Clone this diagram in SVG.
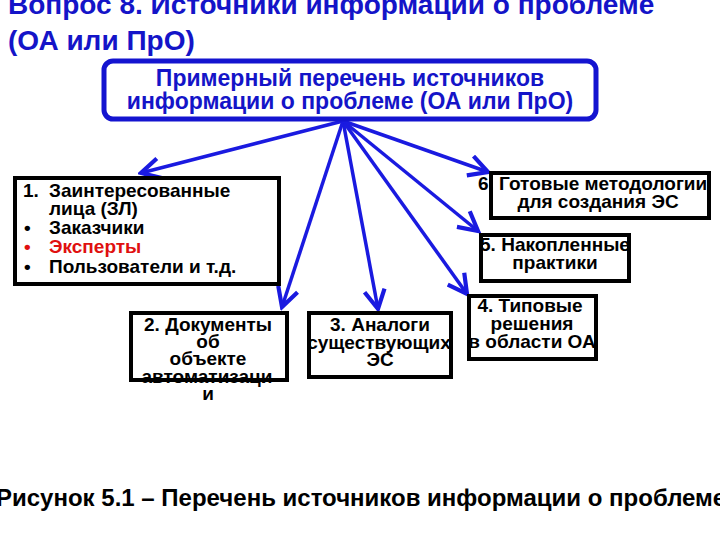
<svg xmlns="http://www.w3.org/2000/svg" width="720" height="540" viewBox="0 0 720 540">
<style>
.t{font-family:"Liberation Sans",Arial,sans-serif;font-weight:bold}
.title{font-size:28px;fill:#1414c8}
.mt{font-size:23px;fill:#1414c8}
.bt{font-size:19px;fill:#000}
.box{fill:#fff;stroke:#000;stroke-width:4}
.conn{stroke:#1a1ae0;stroke-width:3.5;fill:none;marker-end:url(#ah)}
</style>
<defs>
<marker id="ah" markerWidth="7" markerHeight="7" refX="6" refY="3.5" orient="auto" markerUnits="strokeWidth" viewBox="0 0 7 7">
<polyline points="0.6,0.6 6,3.5 0.6,6.4" fill="none" stroke="#1a1ae0" stroke-width="1.2"/>
</marker>
</defs>
<rect width="720" height="540" fill="#fff"/>
<g id="title">
<text class="t title" x="8" y="14">Вопрос 8. Источники информации о проблеме</text>
<text class="t title" x="8" y="50">(ОА или ПрО)</text>
</g>
<g id="connectors">
<line class="conn" x1="343" y1="121" x2="141" y2="173"/>
<line class="conn" x1="343" y1="121" x2="282" y2="307"/>
<line class="conn" x1="343" y1="121" x2="378" y2="309"/>
<line class="conn" x1="343" y1="121" x2="467" y2="294"/>
<line class="conn" x1="343" y1="121" x2="478" y2="231"/>
<line class="conn" x1="343" y1="121" x2="488" y2="172"/>
</g>
<g id="main">
<rect x="104" y="61" width="492" height="58" rx="9" fill="#fff" stroke="#1414d0" stroke-width="5"/>
<text class="t mt" x="350" y="86" text-anchor="middle">Примерный перечень источников</text>
<text class="t mt" x="350" y="109" text-anchor="middle">информации о проблеме (ОА или ПрО)</text>
</g>
<g id="node1">
<rect class="box" x="15" y="178" width="264" height="106"/>
<text class="t bt" x="23" y="197">1.</text>
<text class="t bt" x="49" y="197">Заинтересованные</text>
<text class="t bt" x="49" y="215">лица (ЗЛ)</text>
<text class="t bt" x="24" y="234">•</text>
<text class="t bt" x="49" y="234">Заказчики</text>
<text class="t bt" x="24" y="253" style="fill:#e01010">•</text>
<text class="t bt" x="49" y="253" style="fill:#e01010">Эксперты</text>
<text class="t bt" x="24" y="273">•</text>
<text class="t bt" x="49" y="273">Пользователи и т.д.</text>
</g>
<g id="node2">
<rect class="box" x="131" y="313" width="156" height="67"/>
<text class="t bt" x="208" y="331" text-anchor="middle">2. Документы</text>
<text class="t bt" x="208" y="348" text-anchor="middle">об</text>
<text class="t bt" x="208" y="365" text-anchor="middle">объекте</text>
<text class="t bt" x="207" y="383" text-anchor="middle">автоматизаци</text>
<text class="t bt" x="208" y="400" text-anchor="middle">и</text>
</g>
<g id="node3">
<rect class="box" x="309" y="313" width="142" height="64"/>
<text class="t bt" x="380" y="331" text-anchor="middle">3. Аналоги</text>
<text class="t bt" x="379" y="349" text-anchor="middle">существующих</text>
<text class="t bt" x="380" y="366" text-anchor="middle">ЭС</text>
</g>
<g id="node4">
<rect class="box" x="469" y="296" width="127" height="63"/>
<text class="t bt" x="530" y="312" text-anchor="middle">4. Типовые</text>
<text class="t bt" x="532" y="330" text-anchor="middle">решения</text>
<text class="t bt" x="532" y="348" text-anchor="middle">в области ОА</text>
</g>
<g id="node5">
<rect class="box" x="481" y="235" width="148" height="46"/>
<text class="t bt" x="555" y="251" text-anchor="middle">5. Накопленные</text>
<text class="t bt" x="555" y="269" text-anchor="middle">практики</text>
</g>
<g id="node6">
<rect class="box" x="491" y="173" width="218" height="45"/>
<text class="t bt" x="478" y="190">6. Готовые методологии</text>
<text class="t bt" x="598" y="208" text-anchor="middle">для создания ЭС</text>
</g>
<g id="caption">
<text class="t" x="-4" y="506" font-size="24" fill="#000">Рисунок 5.1 – Перечень источников информации о проблеме</text>
</g>
</svg>
